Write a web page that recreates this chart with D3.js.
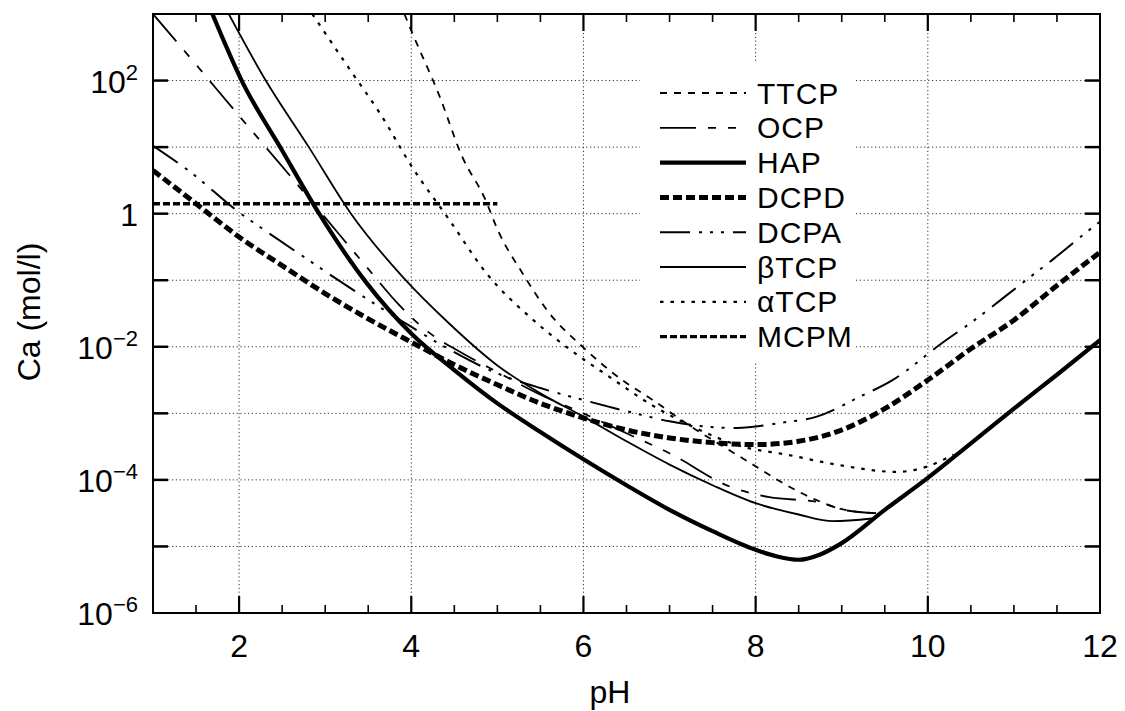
<!DOCTYPE html>
<html>
<head>
<meta charset="utf-8">
<script src="https://cdn.jsdelivr.net/npm/d3@7"></script>
<style>
  body { margin: 0; background: #fff; }
  svg { display: block; }
  text { font-family: "Liberation Sans", Arial, Helvetica, sans-serif; fill: #000; }
</style>
</head>
<body>
<svg id="chart" width="1125" height="711"></svg>
<script>
// tick values
const phTicks = [2, 4, 6, 8, 10, 12];
const expTicks = [-6, -4, -2, 0, 2];

// legend order
const seriesNames = ["TTCP", "OCP", "HAP", "DCPD", "DCPA", "βTCP", "αTCP", "MCPM"];

// solubility isotherms: pH and log10 Ca (mol/l)
const ttcpPH  = [3.92, 4.01, 4.33, 4.59, 4.85, 5.02, 5.29, 5.6, 5.99, 6.45, 6.77, 7.31, 7.55, 7.93, 8.36, 8.7, 9.0, 9.4];
const ttcpLog = [3.0, 2.72, 1.76, 0.86, 0.24, -0.29, -0.89, -1.49, -2.0, -2.5, -2.77, -3.25, -3.44, -3.74, -4.08, -4.3, -4.44, -4.5];

const ocpPH  = [1.0, 1.5, 2.0, 2.5, 3.0, 3.5, 3.85, 4.2, 4.6, 5.0, 5.5, 6.0, 6.5, 7.0, 7.7, 8.16, 8.71, 9.06, 9.4];
const ocpLog = [3.0, 2.24, 1.47, 0.71, -0.06, -0.83, -1.36, -1.78, -2.1, -2.38, -2.72, -3.0, -3.3, -3.6, -4.1, -4.26, -4.33, -4.46, -4.5];

const hapPH  = [1.69, 2.03, 2.5, 2.93, 3.48, 4.0, 4.5, 5.0, 5.5, 6.0, 6.5, 7.0, 7.5, 8.0, 8.25, 8.5, 8.75, 9.0, 9.5, 10.0, 10.5, 11.0, 11.5, 12.0];
const hapLog = [3.0, 2.0, 0.95, 0.0, -1.04, -1.8, -2.35, -2.85, -3.28, -3.69, -4.08, -4.45, -4.77, -5.05, -5.15, -5.2, -5.12, -4.95, -4.45, -3.97, -3.45, -2.93, -2.42, -1.9];

const dcpdPH  = [1, 1.5, 2, 2.5, 3, 3.5, 4, 4.5, 5, 5.5, 6, 6.5, 7, 7.5, 8, 8.5, 9, 9.5, 10, 10.5, 11, 11.5, 12];
const dcpdLog = [0.65, 0.15, -0.35, -0.78, -1.2, -1.58, -1.93, -2.27, -2.57, -2.85, -3.07, -3.25, -3.37, -3.44, -3.47, -3.42, -3.25, -2.93, -2.5, -2.03, -1.6, -1.08, -0.58];

const dcpaPH  = [1, 1.42, 2, 2.31, 2.81, 3.2, 3.9, 4.36, 5, 5.5, 6, 6.57, 7, 7.43, 7.78, 8.31, 8.71, 9.21, 9.59, 10.17, 10.52, 11.1, 11.45, 11.88, 12];
const dcpaLog = [1.02, 0.64, 0.02, -0.26, -0.7, -1.04, -1.62, -1.98, -2.4, -2.62, -2.8, -2.99, -3.12, -3.2, -3.22, -3.14, -3.05, -2.75, -2.5, -1.94, -1.62, -1.04, -0.69, -0.24, -0.12];

const btcpPH  = [1.88, 2.31, 2.81, 3.3, 3.9, 4.44, 5.0, 5.5, 6.0, 6.5, 7.0, 7.5, 8.0, 8.5, 8.9, 9.35];
const btcpLog = [3.0, 2.0, 1.0, 0.0, -0.95, -1.65, -2.28, -2.7, -3.05, -3.42, -3.77, -4.08, -4.35, -4.52, -4.62, -4.58];

const atcpPH  = [2.85, 3.3, 3.63, 4.01, 4.44, 4.87, 5.41, 5.8, 6.3, 6.8, 7.3, 7.85, 8.36, 8.94, 9.64, 9.99, 10.3];
const atcpLog = [3.0, 2.14, 1.52, 0.7, -0.09, -0.89, -1.59, -2.0, -2.45, -2.88, -3.22, -3.5, -3.62, -3.77, -3.88, -3.8, -3.62];

const mcpmPH  = [1, 5];
const mcpmLog = [0.15, 0.15];

const seriesData = {
    "TTCP": [ttcpPH, ttcpLog],
    "OCP":  [ocpPH, ocpLog],
    "HAP":  [hapPH, hapLog],
    "DCPD": [dcpdPH, dcpdLog],
    "DCPA": [dcpaPH, dcpaLog],
    "βTCP": [btcpPH, btcpLog],
    "αTCP": [atcpPH, atcpLog],
    "MCPM": [mcpmPH, mcpmLog]
};

// line styles
const styles = {
    "TTCP": { w: 1.8, dash: "7,7" },
    "OCP":  { w: 1.8, dash: "36,12,8,12,8,12" },
    "HAP":  { w: 4.2, dash: null },
    "DCPD": { w: 5, dash: "9,4" },
    "DCPA": { w: 2, dash: "30,9,3,8,3,8,3,9" },
    "βTCP": { w: 1.8, dash: null },
    "αTCP": { w: 2.2, dash: "3.5,7" },
    "MCPM": { w: 3.4, dash: "7,3" }
};

const svg = d3.select("#chart");
const plotLeft = 153, plotRight = 1100, plotTop = 14, plotBottom = 613;

let x = d3.scaleLinear().domain([1, 12]).range([plotLeft, plotRight]);
let y = d3.scaleLog().domain([1e-6, 1e3]).range([plotBottom, plotTop]);

// clip for the curves
svg.append("defs").append("clipPath").attr("id", "plotClip")
    .append("rect")
    .attr("x", plotLeft).attr("y", plotTop)
    .attr("width", plotRight - plotLeft).attr("height", plotBottom - plotTop);

// grid
let decades = d3.range(-5, 3).map(e => Math.pow(10, e));
svg.append("g").selectAll("line").data(decades).enter().append("line")
    .attr("x1", plotLeft).attr("x2", plotRight)
    .attr("y1", d => y(d)).attr("y2", d => y(d))
    .attr("stroke", "#333").attr("stroke-width", 1).attr("stroke-dasharray", "1.2,2.6");
svg.append("g").selectAll("line").data(phTicks.filter(d => d < 12)).enter().append("line")
    .attr("x1", d => x(d)).attr("x2", d => x(d))
    .attr("y1", plotTop).attr("y2", plotBottom)
    .attr("stroke", "#333").attr("stroke-width", 1).attr("stroke-dasharray", "1.2,2.6");

// legend backdrop hides the grid
svg.append("rect").attr("x", 640).attr("y", 62).attr("width", 215).attr("height", 300).attr("fill", "#fff");

// curves
let line = d3.line()
    .x(d => x(d[0]))
    .y(d => y(Math.pow(10, d[1])))
    .curve(d3.curveMonotoneX);

let curves = svg.append("g").attr("clip-path", "url(#plotClip)");
seriesNames.forEach(name => {
    let ph = seriesData[name][0], lg = seriesData[name][1];
    let pts = ph.map((p, i) => [p, lg[i]]);
    let st = styles[name];
    curves.append("path")
        .attr("d", line(pts))
        .attr("fill", "none")
        .attr("stroke", "#000")
        .attr("stroke-width", st.w)
        .attr("stroke-dasharray", st.dash)
        .attr("stroke-linejoin", "round");
});

// frame
svg.append("rect").attr("x", plotLeft).attr("y", plotTop)
    .attr("width", plotRight - plotLeft).attr("height", plotBottom - plotTop)
    .attr("fill", "none").attr("stroke", "#000").attr("stroke-width", 2);

// ticks (inward, on all four sides)
let halfSteps = d3.range(1.5, 12, 0.5);
let ticks = svg.append("g").attr("stroke", "#000");
halfSteps.forEach(v => {
    let len = (v % 2 === 0) ? 17 : 8;
    let w = (v % 2 === 0) ? 2.2 : 1.6;
    ticks.append("line").attr("x1", x(v)).attr("x2", x(v)).attr("y1", plotBottom).attr("y2", plotBottom - len).attr("stroke-width", w);
    ticks.append("line").attr("x1", x(v)).attr("x2", x(v)).attr("y1", plotTop).attr("y2", plotTop + len).attr("stroke-width", w);
});
decades.forEach(v => {
    ticks.append("line").attr("x1", plotLeft).attr("x2", plotLeft + 15).attr("y1", y(v)).attr("y2", y(v)).attr("stroke-width", 2.5);
    ticks.append("line").attr("x1", plotRight).attr("x2", plotRight - 15).attr("y1", y(v)).attr("y2", y(v)).attr("stroke-width", 2.5);
});

// x tick labels
svg.append("g").selectAll("text").data(phTicks).enter().append("text")
    .attr("x", d => x(d)).attr("y", 657)
    .attr("text-anchor", "middle")
    .style("font-size", "32px")
    .text(d => d);

// y tick labels
let yLabels = svg.append("g").selectAll("text").data(expTicks).enter().append("text")
    .attr("x", 138).attr("y", d => y(Math.pow(10, d)) + 12)
    .attr("text-anchor", "end")
    .style("font-size", "32px");
yLabels.each(function(d) {
    let t = d3.select(this);
    if (d === 0) {
        t.text("1");
    } else {
        t.append("tspan").text("10");
        t.append("tspan").attr("dy", -13).style("font-size", "22px")
            .text(d < 0 ? "\u2212" + (-d) : String(d));
    }
});

// axis titles
svg.append("text").attr("x", 610).attr("y", 703)
    .attr("text-anchor", "middle").style("font-size", "32px").text("pH");
svg.append("text")
    .attr("transform", "translate(40,312) rotate(-90)")
    .attr("text-anchor", "middle").style("font-size", "32px").text("Ca (mol/l)");

// legend
let legend = svg.append("g");
seriesNames.forEach((name, i) => {
    let ly = 93 + i * 34.8;
    let st = styles[name];
    legend.append("line")
        .attr("x1", 660).attr("x2", 746).attr("y1", ly).attr("y2", ly)
        .attr("stroke", "#000").attr("stroke-width", st.w)
        .attr("stroke-dasharray", st.dash);
    legend.append("text")
        .attr("x", 757).attr("y", ly + 10.5)
        .style("font-size", "30px")
        .style("letter-spacing", "1px")
        .text(name);
});
</script>
</body>
</html>
